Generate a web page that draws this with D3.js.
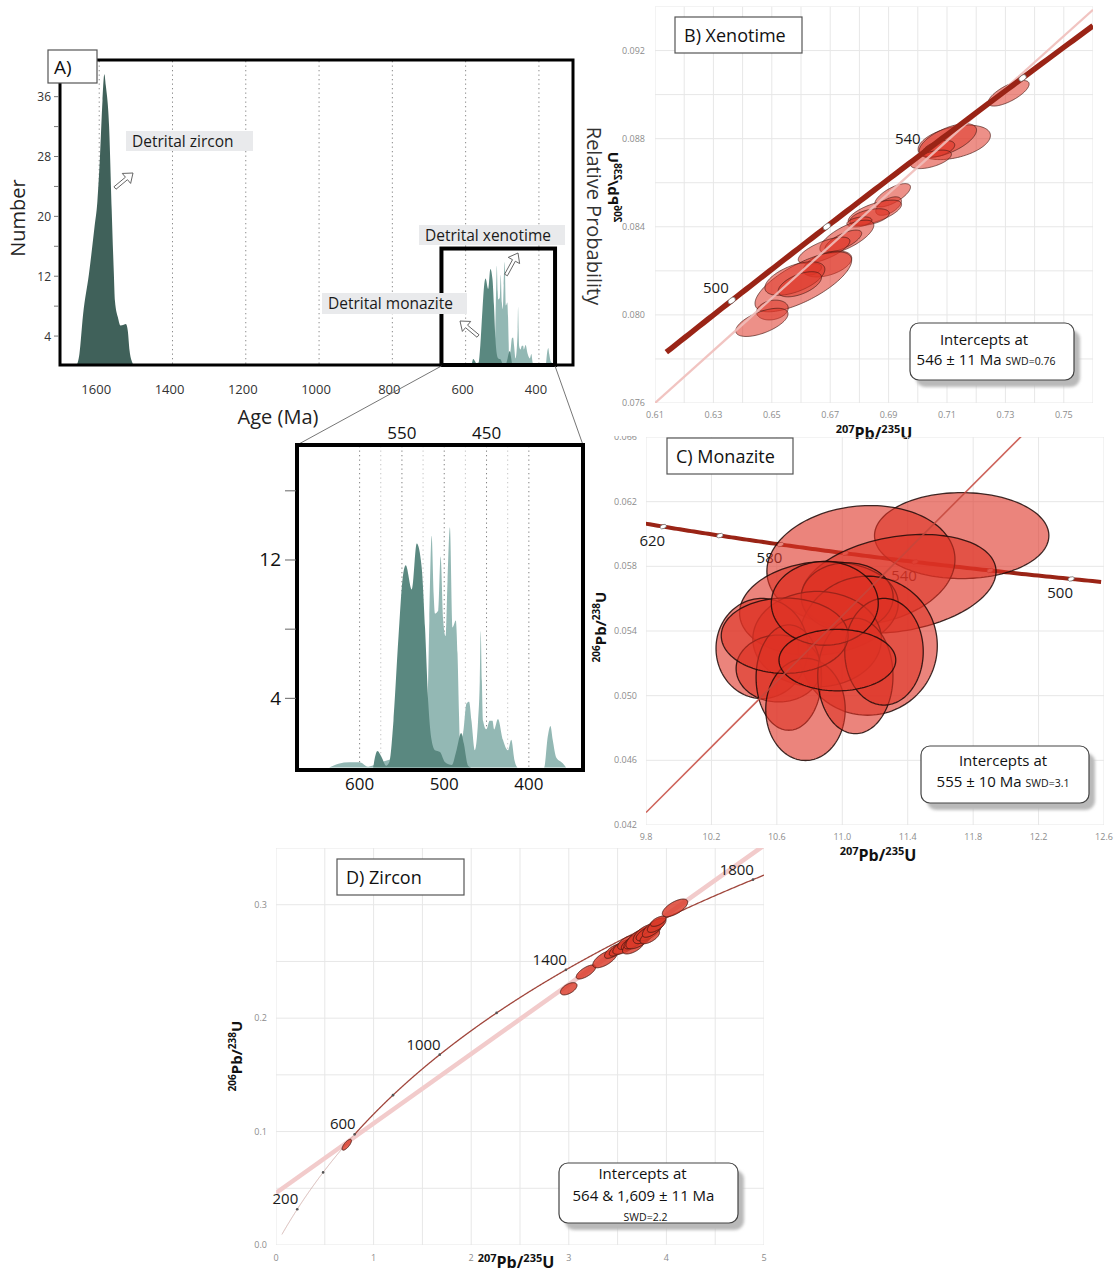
<!DOCTYPE html>
<html><head><meta charset="utf-8">
<script src="https://cdn.jsdelivr.net/npm/d3@7"></script>
<style>
body{margin:0;background:#fff;}
svg{display:block;}
text{font-family:"Open Sans",sans-serif;}
</style></head><body>
<svg id="fig" width="1115" height="1274"></svg>
<script>
// ---------------- DATA ----------------
// Panel A: probability density (Number) vs Age (Ma)
const zirconAge   = [1662,1654,1644,1628,1613,1605,1598,1591,1586,1582,1573,1566,1560,1557,1549,1542,1533,1527,1522,1517,1510,1505];
const zirconCount = [0,1.6,6.9,12.3,18.5,22,27.9,35.5,39.0,37.5,32,21,12.3,8.7,6.5,5.4,5.5,5.6,4.7,2,0.5,0];
const monaziteAge   = [584,579,574,568.6,565,560,554,549,545.5,538.4,532.5,526.7,522.7,518.8,515,511,505,499,491,485.5,480,476.9,471.8,468];
const monaziteCount = [0,0.95,0.6,0.1,0.3,2.7,7.6,11,11.7,10.3,12.95,11.6,8.1,3.7,1.6,1.0,0.9,0.3,0.15,1.0,2.0,1.4,0.1,0];
const xenotimeAge   = [636,625,612,600,590,575,555,535,524,519.5,517.6,514.9,512.5,511,507,504.3,501.2,498.4,496.1,493.3,490.2,486.3,484.3,482.5,481.6,477.6,473.7,470.6,467.8,463.9,460,458,456.9,455.5,454.1,450.2,446.3,443,441,436.5,430.6,424.7,420.8,416.9,413,382,377.6,374.5,371.8,367.8,360,356];
const xenotimeCount = [0,0.22,0.3,0.3,0.05,0.3,0.6,0.9,1.3,4,8.5,13.4,10,8.9,9.1,12.2,8.5,7.6,10.8,13.9,8.1,8.5,6.6,3,1.6,2.0,3.7,3.8,2.7,1.0,2.7,5,7.9,5,2.7,2.2,2.7,2.7,2.2,2.8,1.6,1.0,1.6,0.4,0,0,1.8,2.4,1.6,0.6,0.25,0];
const ageTicksA = [1600,1400,1200,1000,800,600,400];
const numTicksA = [36,28,20,12,4];
const numMinorA = [4,8,12,16,20,24,28,32,36];
const highlightAges = [666,356];      // zoom box in panel A
const highlightTop = 15.7;
const insetDomain = [674,336];
const insetGrid = [600,575,550,525,500,475,450,425,400];
const insetBottomTicks = [600,500,400];
const insetTopTicks = [550,450];
const insetYTicks = [16,12,8,4];
const insetYLabels = [12,4];

// Panel B: xenotime ellipses [207Pb/235U, 206Pb/238U, half-width x, half-height y, rho]
const xenoEllipses = [
 [0.7311,0.09006,0.00702,0.00058,0.72],
 [0.7125,0.08783,0.01238,0.00078,0.4],
 [0.7103,0.08792,0.00982,0.00076,0.62],
 [0.7071,0.08754,0.00554,0.00038,0.45],
 [0.7045,0.08706,0.00702,0.00042,0.55],
 [0.6914,0.08543,0.0061,0.00053,0.7],
 [0.6900,0.08494,0.0044,0.00042,0.55],
 [0.6853,0.08464,0.00913,0.00057,0.65],
 [0.6835,0.08444,0.00673,0.00038,0.45],
 [0.6800,0.08422,0.00428,0.00023,0.35],
 [0.6757,0.08354,0.00924,0.00076,0.7],
 [0.6745,0.08336,0.00628,0.00049,0.7],
 [0.6679,0.08293,0.00884,0.0006,0.7],
 [0.6691,0.08231,0.00827,0.00059,0.45],
 [0.6639,0.08207,0.00314,0.00026,0.35],
 [0.6608,0.0815,0.01655,0.00136,0.72],
 [0.6579,0.08165,0.01027,0.00076,0.55],
 [0.6596,0.08139,0.00742,0.00057,0.55],
 [0.6502,0.08022,0.00542,0.00045,0.2],
 [0.6466,0.07966,0.00896,0.00064,0.6]
];
const xenoLine = [[0.61,0.076],[0.76,0.09385]];
const xenoConcordiaRange = [486,574];
const xenoMarkers = [500,520,560];
const xenoLabels = [500,540];
const xTicksB = [0.61,0.63,0.65,0.67,0.69,0.71,0.73,0.75];
const yTicksB = [0.076,0.080,0.084,0.088,0.092];

// Panel C: monazite ellipses
const monaEllipses = [
 [11.73,0.0599,0.533,0.00266,0.0],
 [11.114,0.05806,0.575,0.0037,0.1],
 [11.345,0.05692,0.595,0.00305,0.25],
 [10.857,0.0554,0.485,0.0029,0.1],
 [11.03,0.0561,0.281,0.00212,0.0],
 [11.155,0.05309,0.426,0.0043,0.0],
 [10.846,0.0535,0.393,0.00295,0.0],
 [10.509,0.05292,0.281,0.0031,0.0],
 [10.611,0.05168,0.26,0.00207,0.0],
 [10.673,0.05112,0.2,0.00326,0.0],
 [10.775,0.04915,0.243,0.00316,0.0],
 [11.08,0.05122,0.23,0.00357,0.0],
 [11.255,0.05272,0.24,0.0033,0.0],
 [10.648,0.05371,0.388,0.00233,0.0],
 [10.893,0.05571,0.327,0.00259,0.0],
 [10.97,0.0522,0.357,0.0019,0.0]
];
const monaLine = [[9.8,0.04277],[12.1,0.0661]];
const monaConcordiaRange = [493,628];
const monaMarkers = [620,600,580,560,540,520,500];
const monaLabels = [620,580,540,500];
const xTicksC = [9.8,10.2,10.6,11.0,11.4,11.8,12.2,12.6];
const yTicksC = [0.042,0.046,0.050,0.054,0.058,0.062,0.066];

// Panel D: zircon ellipses
const zirEllipses = [
 [0.725,0.0884,0.048,0.0048,0.75],
 [2.999,0.2259,0.085,0.0054,0.55],
 [3.176,0.2407,0.1,0.0062,0.7],
 [3.371,0.2522,0.125,0.0078,0.65],
 [3.456,0.2589,0.09,0.0062,0.65],
 [3.52,0.2615,0.105,0.0068,0.7],
 [3.576,0.2633,0.125,0.007,0.65],
 [3.60,0.2668,0.1,0.0062,0.6],
 [3.644,0.2663,0.105,0.0064,0.65],
 [3.66,0.2632,0.11,0.0066,0.6],
 [3.68,0.2685,0.115,0.0074,0.7],
 [3.73,0.2707,0.145,0.0096,0.65],
 [3.78,0.2742,0.12,0.0085,0.6],
 [3.815,0.2751,0.125,0.007,0.65],
 [3.83,0.2718,0.1,0.0062,0.6],
 [3.866,0.2795,0.112,0.0082,0.7],
 [3.9,0.282,0.095,0.0064,0.65],
 [3.917,0.2854,0.08,0.0045,0.6],
 [4.088,0.2972,0.13,0.0078,0.65]
];
const zirIntercepts = [564,1609];
const zirConcordiaRange = [60,1830];
const zirMarkers = [200,400,600,800,1000,1200,1400,1600,1800];
const zirLabels = [200,600,1000,1400,1800];
const xTicksD = [0,1,2,3,4,5];
const yTicksD = [0.0,0.1,0.2,0.3];

// ---------------- HELPERS ----------------
const L238 = 1.55125e-4, L235 = 9.8485e-4, U85 = 137.88; // per Ma
const wether = t => [Math.expm1(L235*t), Math.expm1(L238*t)];
const tera = t => [1/Math.expm1(L238*t), Math.expm1(L235*t)/Math.expm1(L238*t)/U85];

const svg = d3.select('#fig');
const defs = svg.append('defs');
defs.append('filter').attr('id','blur').append('feGaussianBlur').attr('stdDeviation',1.6);
function clip(id,x,y,w,h){defs.append('clipPath').attr('id',id).append('rect').attr('x',x).attr('y',y).attr('width',w).attr('height',h);}

function ellPath(e,xs,ys){
  const [cx,cy,sx,sy,r]=e, q=Math.sqrt(1-r*r);
  const pts=d3.range(0,2*Math.PI,Math.PI/72).map(a=>[xs(cx+sx*Math.cos(a)), ys(cy+sy*(r*Math.cos(a)+q*Math.sin(a)))]);
  return d3.line().curve(d3.curveLinearClosed)(pts);
}
function isoLabel(g,x,y,transform,sup1,sup2,size){
  const t=g.append('text').attr('font-family','Liberation Sans, Arial, sans-serif').attr('font-weight','bold')
    .attr('font-size',size).attr('text-anchor','middle').attr('fill','#111')
    .attr('transform',`translate(${x},${y}) ${transform}`);
  const s=Math.round(size*0.68);
  t.append('tspan').attr('font-size',s).attr('dy',-size*0.38).text(sup1);
  t.append('tspan').attr('dy',size*0.38).text('Pb/');
  t.append('tspan').attr('font-size',s).attr('dy',-size*0.38).text(sup2);
  t.append('tspan').attr('dy',size*0.38).text('U');
}
function titleBox(g,x,y,w,h,txt){
  g.append('rect').attr('x',x).attr('y',y).attr('width',w).attr('height',h).attr('fill','#fff').attr('stroke','#555').attr('stroke-width',1.2);
  g.append('text').attr('x',x+9).attr('y',y+h/2+6.5).attr('font-size',18).attr('fill','#111').text(txt);
}
function interceptBox(g,x,y,w,h,lines){
  g.append('rect').attr('x',x+6).attr('y',y+7).attr('width',w).attr('height',h).attr('rx',9).attr('fill','#b9b9b9').attr('filter','url(#blur)');
  g.append('rect').attr('x',x).attr('y',y).attr('width',w).attr('height',h).attr('rx',9).attr('fill','#fff').attr('stroke','#444').attr('stroke-width',1.2);
  lines.forEach(l=>{
    const t=g.append('text').attr('x',x+w/2+(l.dx||0)).attr('y',y+l.dy).attr('text-anchor','middle').attr('font-size',l.size||15).attr('fill','#111');
    t.append('tspan').text(l.text);
    if(l.small){t.append('tspan').attr('font-size',10.5).attr('dx',4).text(l.small);}
  });
}
function hollowArrow(g,x1,y1,x2,y2){
  const dx=x2-x1,dy=y2-y1,L=Math.hypot(dx,dy),ux=dx/L,uy=dy/L,nx=-uy,ny=ux;
  const hw=1.6,HW=6.5,HL=8.5,bx=x2-ux*HL,by=y2-uy*HL;
  const p=[[x1+nx*hw,y1+ny*hw],[bx+nx*hw,by+ny*hw],[bx+nx*HW,by+ny*HW],[x2,y2],[bx-nx*HW,by-ny*HW],[bx-nx*hw,by-ny*hw],[x1-nx*hw,y1-ny*hw]];
  g.append('polygon').attr('points',p.map(d=>d.join(',')).join(' ')).attr('fill','#fff').attr('stroke','#555').attr('stroke-width',0.9);
}
const zip=(a,b)=>a.map((v,i)=>[v,b[i]]);

// colours
const cZircon='#40615a', cMona='#5a8880', cXeno='#93b8b4';

// ================= PANEL B =================
const xB=d3.scaleLinear([0.61,0.76],[655,1093]);
const yB=d3.scaleLinear([0.076,0.094],[403,6.5]);
clip('clipB',655,6.5,438,396.5);
const gB=svg.append('g');
const gBp=gB.append('g').attr('clip-path','url(#clipB)');
gBp.selectAll('.gx').data(d3.range(61,77).map(v=>v/100)).join('line')
  .attr('x1',d=>xB(d)).attr('x2',d=>xB(d)).attr('y1',yB(0.076)).attr('y2',yB(0.094)).attr('stroke','#e7e7e7');
gBp.selectAll('.gy').data(d3.range(76,95,2).map(v=>v/1000)).join('line')
  .attr('y1',d=>yB(d)).attr('y2',d=>yB(d)).attr('x1',xB(0.61)).attr('x2',xB(0.76)).attr('stroke','#e7e7e7');
gBp.selectAll('.eB').data(xenoEllipses).join('path').attr('d',d=>ellPath(d,xB,yB))
  .attr('fill','rgba(222,52,38,0.55)').attr('stroke','rgba(70,25,20,0.75)').attr('stroke-width',0.9);
gBp.append('path').attr('d',d3.line().x(d=>xB(d[0])).y(d=>yB(d[1]))(xenoLine)).attr('stroke','rgba(240,190,186,0.9)').attr('stroke-width',2.3).attr('fill','none');
const concB=d3.range(xenoConcordiaRange[0],xenoConcordiaRange[1]+0.5,1).map(wether);
gBp.append('path').attr('d',d3.line().x(d=>xB(d[0])).y(d=>yB(d[1]))(concB)).attr('stroke','#9a2416').attr('stroke-width',5.5).attr('fill','none');
xenoMarkers.forEach(t=>{const p=wether(t);
  gBp.append('ellipse').attr('cx',xB(p[0])).attr('cy',yB(p[1])).attr('rx',4.2).attr('ry',2.6)
   .attr('transform',`rotate(-38 ${xB(p[0])} ${yB(p[1])})`).attr('fill','#fff').attr('stroke','#555').attr('stroke-width',0.6);});
xenoLabels.forEach(t=>{const p=wether(t);
  gB.append('text').attr('x',xB(p[0])-3).attr('y',yB(p[1])-8).attr('text-anchor','end').attr('font-family','Liberation Sans, Arial').attr('font-size',15).attr('fill','#1a1a1a').text(t);});
gB.selectAll('.txB').data(xTicksB).join('text').attr('x',d=>xB(d)).attr('y',418).attr('text-anchor','middle')
  .attr('font-family','Liberation Sans, Arial').attr('font-size',9).attr('fill','#8c8c8c').text(d3.format('.2f'));
gB.selectAll('.tyB').data(yTicksB).join('text').attr('x',645).attr('y',d=>yB(d)+3).attr('text-anchor','end')
  .attr('font-family','Liberation Sans, Arial').attr('font-size',9).attr('fill','#8c8c8c').text(d3.format('.3f'));
isoLabel(gB,874,439,'', '207','235',16);
isoLabel(gB,608,187,'rotate(-90) scale(1,-1)', '206','238',15);
gB.append('text').attr('transform','translate(587,216) rotate(90)').attr('text-anchor','middle').attr('font-size',20).attr('fill','#333').text('Relative Probability');
titleBox(gB,675,17,127,36,'B) Xenotime');
interceptBox(gB,910,323,164,57,[{text:'Intercepts at',dy:22,dx:-8},{text:'546 ± 11 Ma',small:'SWD=0.76',dy:42,dx:-6}]);

// ================= PANEL C =================
const xC=d3.scaleLinear([9.8,12.6],[646,1104]);
const yC=d3.scaleLinear([0.042,0.066],[825,437]);
clip('clipC',646,437,458,388);
clip('clipCt',560,436,100,40);
const gC=svg.append('g');
const gCp=gC.append('g').attr('clip-path','url(#clipC)');
gCp.selectAll('.gx').data(xTicksC).join('line').attr('x1',d=>xC(d)).attr('x2',d=>xC(d)).attr('y1',yC(0.042)).attr('y2',yC(0.066)).attr('stroke','#e7e7e7');
gCp.selectAll('.gy').data(yTicksC).join('line').attr('y1',d=>yC(d)).attr('y2',d=>yC(d)).attr('x1',xC(9.8)).attr('x2',xC(12.6)).attr('stroke','#e7e7e7');
const concC=d3.range(monaConcordiaRange[0],monaConcordiaRange[1]+0.5,1).map(tera);
gCp.append('path').attr('d',d3.line().x(d=>xC(d[0])).y(d=>yC(d[1]))(concC)).attr('stroke','#9a2416').attr('stroke-width',4).attr('fill','none');
monaMarkers.forEach(t=>{const p=tera(t);
  gCp.append('ellipse').attr('cx',xC(p[0])).attr('cy',yC(p[1])).attr('rx',3.3).attr('ry',2)
   .attr('transform',`rotate(-20 ${xC(p[0])} ${yC(p[1])})`).attr('fill','#fff').attr('stroke','#555').attr('stroke-width',0.6);});
const gCl=gC.append('g');
monaLabels.forEach(t=>{const p=tera(t);
  gCl.append('text').attr('x',xC(p[0])-11).attr('y',yC(p[1])+19).attr('text-anchor','middle').attr('font-family','Liberation Sans, Arial').attr('font-size',15).attr('fill','#1a1a1a').text(t);});
const gCe=gC.append('g').attr('clip-path','url(#clipC)');
gCe.selectAll('.eC').data(monaEllipses).join('path').attr('d',d=>ellPath(d,xC,yC))
  .attr('fill','rgba(222,50,36,0.6)').attr('stroke','rgba(30,10,8,0.85)').attr('stroke-width',1.3);
gCe.append('path').attr('d',d3.line().x(d=>xC(d[0])).y(d=>yC(d[1]))(monaLine)).attr('stroke','rgba(196,70,60,0.85)').attr('stroke-width',1.6).attr('fill','none');
gC.selectAll('.txC').data(xTicksC).join('text').attr('x',d=>xC(d)).attr('y',840).attr('text-anchor','middle')
  .attr('font-family','Liberation Sans, Arial').attr('font-size',9).attr('fill','#8c8c8c').text(d3.format('.1f'));
gC.append('g').attr('clip-path','url(#clipCt)').selectAll('.tyC').data(yTicksC.slice(-1)).join('text').attr('x',637).attr('y',d=>yC(d)+3).attr('text-anchor','end')
  .attr('font-family','Liberation Sans, Arial').attr('font-size',9).attr('fill','#8c8c8c').text(d3.format('.3f'));
gC.selectAll('.tyC2').data(yTicksC.slice(0,-1)).join('text').attr('x',637).attr('y',d=>yC(d)+3).attr('text-anchor','end')
  .attr('font-family','Liberation Sans, Arial').attr('font-size',9).attr('fill','#8c8c8c').text(d3.format('.3f'));
isoLabel(gC,878,861,'', '207','235',16);
isoLabel(gC,606,627,'rotate(-90)', '206','238',15);
titleBox(gC,667,438,126,36,'C) Monazite');
interceptBox(gC,921,746,168,57,[{text:'Intercepts at',dy:20,dx:-2},{text:'555 ± 10 Ma',small:'SWD=3.1',dy:41,dx:-2}]);

// ================= PANEL D =================
const xD=d3.scaleLinear([0,5],[276,764]);
const yD=d3.scaleLinear([0,0.35],[1245,848]);
clip('clipD',276,848,488,397);
const gD=svg.append('g');
const gDp=gD.append('g').attr('clip-path','url(#clipD)');
gDp.selectAll('.gx').data(d3.range(0,11).map(v=>v/2)).join('line').attr('x1',d=>xD(d)).attr('x2',d=>xD(d)).attr('y1',yD(0)).attr('y2',yD(0.35)).attr('stroke','#e7e7e7');
gDp.selectAll('.gy').data(d3.range(0,8).map(v=>v*0.05)).join('line').attr('y1',d=>yD(d)).attr('y2',d=>yD(d)).attr('x1',xD(0)).attr('x2',xD(5)).attr('stroke','#e7e7e7');
// discordia through intercepts
const pLo=wether(zirIntercepts[0]), pHi=wether(zirIntercepts[1]);
const slope=(pHi[1]-pLo[1])/(pHi[0]-pLo[0]);
const discD=[[0,pLo[1]-slope*pLo[0]],[5,pLo[1]+slope*(5-pLo[0])]];
gDp.append('path').attr('d',d3.line().x(d=>xD(d[0])).y(d=>yD(d[1]))(discD)).attr('stroke','#f2cbcb').attr('stroke-width',4.5).attr('fill','none');
const concDlow=d3.range(zirConcordiaRange[0],601,2).map(wether);
const concDhigh=d3.range(600,zirConcordiaRange[1]+1,2).map(wether);
gDp.append('path').attr('d',d3.line().x(d=>xD(d[0])).y(d=>yD(d[1]))(concDlow)).attr('stroke','#caa3a0').attr('stroke-width',0.8).attr('fill','none');
gDp.append('path').attr('d',d3.line().x(d=>xD(d[0])).y(d=>yD(d[1]))(concDhigh)).attr('stroke','#a0463c').attr('stroke-width',1.3).attr('fill','none');
zirMarkers.forEach(t=>{const p=wether(t);
  gDp.append('circle').attr('cx',xD(p[0])).attr('cy',yD(p[1])).attr('r',1.3).attr('fill','#555');});
gDp.selectAll('.eD').data(zirEllipses).join('path').attr('d',d=>ellPath(d,xD,yD))
  .attr('fill','rgba(218,58,42,0.82)').attr('stroke','#4a1812').attr('stroke-width',0.9);
zirLabels.forEach(t=>{const p=wether(t);
  gD.append('text').attr('x',xD(p[0])+1).attr('y',yD(p[1])-5).attr('text-anchor','end').attr('font-family','Liberation Sans, Arial').attr('font-size',15).attr('fill','#1a1a1a').text(t);});
gD.selectAll('.txD').data(xTicksD).join('text').attr('x',d=>xD(d)).attr('y',1261).attr('text-anchor','middle')
  .attr('font-family','Liberation Sans, Arial').attr('font-size',9).attr('fill','#8c8c8c').text(d3.format('d'));
gD.selectAll('.tyD').data(yTicksD).join('text').attr('x',267).attr('y',d=>yD(d)+3).attr('text-anchor','end')
  .attr('font-family','Liberation Sans, Arial').attr('font-size',9).attr('fill','#8c8c8c').text(d3.format('.1f'));
isoLabel(gD,516,1268,'', '207','235',16);
isoLabel(gD,242,1056,'rotate(-90)', '206','238',15);
titleBox(gD,337,859,127,36,'D) Zircon');
interceptBox(gD,559,1163,179,60,[{text:'Intercepts at',dy:16,dx:-6},{text:'564 & 1,609 ± 11 Ma',dy:38,dx:-5},{text:'SWD=2.2',dy:58,dx:-3,size:10.5}]);

// ================= PANEL A =================
const xA=d3.scaleLinear([1707,307],[60,573]);
const yA=d3.scaleLinear([0,40.9],[366,60]);
clip('clipA',60,60,513,306);
const gA=svg.append('g');
const gAp=gA.append('g').attr('clip-path','url(#clipA)');
gAp.selectAll('.dl').data(ageTicksA).join('line').attr('x1',d=>xA(d)).attr('x2',d=>xA(d)).attr('y1',61).attr('y2',365)
  .attr('stroke','#8a8a8a').attr('stroke-width',1).attr('stroke-dasharray','1.3 3.2');
const areaA=d3.area().curve(d3.curveMonotoneX).x(d=>xA(d[0])).y0(yA(0)).y1(d=>yA(d[1]));
gAp.append('path').attr('d',areaA(zip(zirconAge,zirconCount))).attr('fill',cZircon);
gAp.append('path').attr('d',areaA(zip(xenotimeAge,xenotimeCount))).attr('fill',cXeno);
gAp.append('path').attr('d',areaA(zip(monaziteAge,monaziteCount))).attr('fill',cMona);
gA.append('rect').attr('x',60).attr('y',60).attr('width',513).attr('height',305).attr('fill','none').attr('stroke','#000').attr('stroke-width',3);
gA.selectAll('.tk').data(numMinorA).join('line').attr('x1',54).attr('x2',59).attr('y1',d=>yA(d)).attr('y2',d=>yA(d)).attr('stroke','#777').attr('stroke-width',1);
gA.selectAll('.tl').data(numTicksA).join('text').attr('x',51).attr('y',d=>yA(d)+4.5).attr('text-anchor','end').attr('font-size',12).attr('fill','#333').text(d=>d);
gA.selectAll('.al').data(ageTicksA).join('text').attr('x',d=>xA(d)-3).attr('y',394).attr('text-anchor','middle').attr('font-size',13).attr('fill','#333').text(d=>d);
gA.append('text').attr('transform','translate(25,218) rotate(-90)').attr('text-anchor','middle').attr('font-size',20).attr('fill','#222').text('Number');
gA.append('text').attr('x',278).attr('y',424).attr('text-anchor','middle').attr('font-size',20).attr('fill','#222').text('Age (Ma)');
// highlight box
const hbX0=xA(highlightAges[0]), hbX1=xA(highlightAges[1]), hbY=yA(highlightTop);
gA.append('rect').attr('x',hbX0).attr('y',hbY).attr('width',hbX1-hbX0).attr('height',365-hbY).attr('fill','none').attr('stroke','#000').attr('stroke-width',4);
// labels
function labelBg(x,y,w,h,txt){
  gA.append('rect').attr('x',x).attr('y',y).attr('width',w).attr('height',h).attr('fill','#e9eaec');
  gA.append('text').attr('x',x+6).attr('y',y+h/2+5.5).attr('font-size',15.5).attr('fill','#1a1a1a').text(txt);
}
labelBg(126,131,127,20,'Detrital zircon');
labelBg(419,225,146,20,'Detrital xenotime');
labelBg(322,293,145,21,'Detrital monazite');
hollowArrow(gA,115,188,133,173);
hollowArrow(gA,506,275,518,253);
hollowArrow(gA,478,336,460,321);
gA.append('rect').attr('x',48).attr('y',50).attr('width',49).attr('height',33).attr('fill','#fff').attr('stroke','#555').attr('stroke-width',1.2);
gA.append('text').attr('x',54).attr('y',74).attr('font-size',19).attr('fill','#111').text('A)');

// ================= INSET =================
const xI=d3.scaleLinear(insetDomain,[297,583]);
const yI=d3.scaleLinear([0,18.65],[767.5,445]);
const gI=svg.append('g');
gI.append('line').attr('x1',hbX0).attr('y1',366).attr('x2',297).attr('y2',445).attr('stroke','#666').attr('stroke-width',0.9);
gI.append('line').attr('x1',hbX1).attr('y1',366).attr('x2',583).attr('y2',445).attr('stroke','#666').attr('stroke-width',0.9);
clip('clipI',297,445,286,325);
const gIp=gI.append('g').attr('clip-path','url(#clipI)');
gIp.selectAll('.il').data(insetGrid).join('line').attr('x1',d=>xI(d)).attr('x2',d=>xI(d)).attr('y1',446).attr('y2',768)
  .attr('stroke',d=>d%50===0?'#808080':'#c4c4c4').attr('stroke-width',1).attr('stroke-dasharray','1.3 3.2');
const areaI=d3.area().curve(d3.curveMonotoneX).x(d=>xI(d[0])).y0(yI(0)).y1(d=>yI(d[1]));
gIp.append('path').attr('d',areaI(zip(xenotimeAge,xenotimeCount))).attr('fill',cXeno);
gIp.append('path').attr('d',areaI(zip(monaziteAge,monaziteCount))).attr('fill',cMona);
gI.append('rect').attr('x',297).attr('y',445).attr('width',286).attr('height',325).attr('fill','none').attr('stroke','#000').attr('stroke-width',4);
gI.selectAll('.yt').data(insetYTicks).join('line').attr('x1',285).attr('x2',296).attr('y1',d=>yI(d)).attr('y2',d=>yI(d)).attr('stroke','#666');
gI.selectAll('.yl').data(insetYLabels).join('text').attr('x',281).attr('y',d=>yI(d)+6.5).attr('text-anchor','end').attr('font-size',19).attr('fill','#111').text(d=>d);
gI.selectAll('.bl').data(insetBottomTicks).join('text').attr('x',d=>xI(d)).attr('y',790).attr('text-anchor','middle').attr('font-size',17).attr('fill','#111').text(d=>d);
gI.selectAll('.tl').data(insetTopTicks).join('text').attr('x',d=>xI(d)).attr('y',439).attr('text-anchor','middle').attr('font-size',17).attr('fill','#111').text(d=>d);
</script>
</body></html>
